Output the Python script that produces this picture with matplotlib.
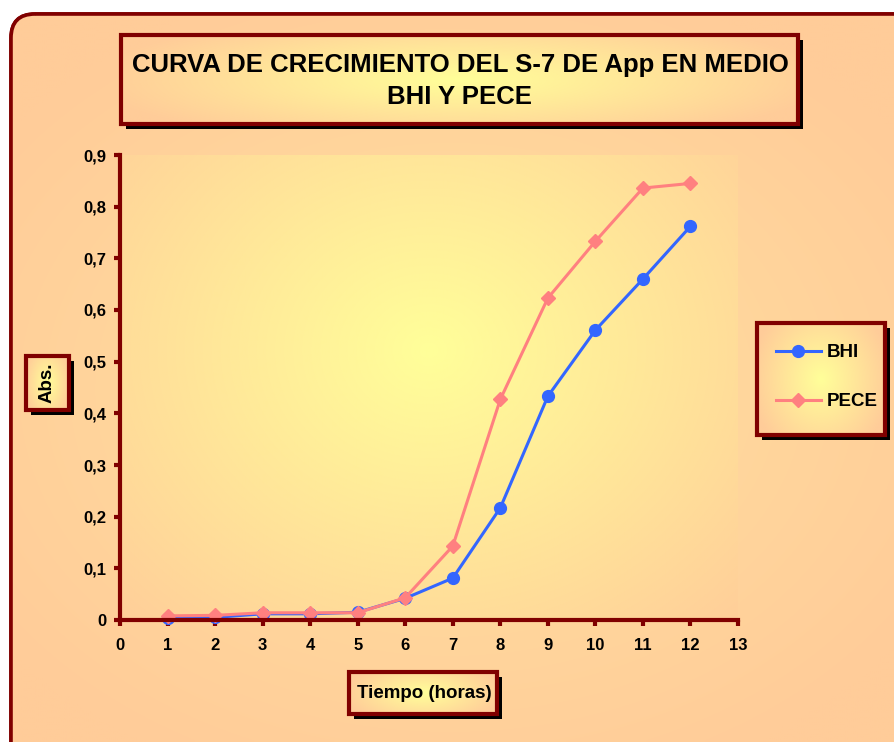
import numpy as np
import matplotlib
matplotlib.use("Agg")
import matplotlib.pyplot as plt
from matplotlib.patches import FancyBboxPatch, Rectangle

# Growth curve readings (absorbance) per hour
hours = [1, 2, 3, 4, 5, 6, 7, 8, 9, 10, 11, 12]
bhi = [0.004, 0.005, 0.012, 0.012, 0.015, 0.042, 0.081, 0.217, 0.433, 0.561, 0.660, 0.762]
pece = [0.008, 0.009, 0.014, 0.014, 0.014, 0.043, 0.143, 0.427, 0.623, 0.733, 0.836, 0.845]

x_ticks = list(range(0, 14))
y_ticks = [0, 0.1, 0.2, 0.3, 0.4, 0.5, 0.6, 0.7, 0.8, 0.9]
y_tick_labels = ["0", "0,1", "0,2", "0,3", "0,4", "0,5", "0,6", "0,7", "0,8", "0,9"]

title_text = "CURVA DE CRECIMIENTO DEL S-7 DE App EN MEDIO\nBHI Y PECE"
x_label = "Tiempo (horas)"
y_label = "Abs."

DARK_RED = "#800000"
PEACH = np.array([255, 204, 153]) / 255
YELLOW = np.array([255, 255, 153]) / 255
BLUE = "#3366FF"
PINK = "#FF8080"
FONT = "Liberation Sans"

W, H = 895, 742
fig = plt.figure(figsize=(W / 100, H / 100), dpi=100)
fig.patch.set_facecolor("white")

# Decoration layer in pixel coordinates
bg = fig.add_axes([0, 0, 1, 1], zorder=0)
bg.set_xlim(0, W)
bg.set_ylim(H, 0)
bg.axis("off")


def radial_fill(x0, y0, x1, y1, cx, cy, rx, ry, inner, outer, clip, ax, z):
    n = 200
    xs = np.linspace(x0, x1, n)
    ys = np.linspace(y0, y1, n)
    X, Y = np.meshgrid(xs, ys)
    t = np.sqrt(((X - cx) / rx) ** 2 + ((Y - cy) / ry) ** 2)
    t = np.clip(t, 0, 1)[..., None]
    img = inner * (1 - t) + outer * t
    im = ax.imshow(img, extent=(x0, x1, y1, y0), origin="upper",
                   interpolation="bilinear", aspect="auto", zorder=z)
    im.set_clip_path(clip)
    return im


# Outer chart frame
frame = FancyBboxPatch((11, 14), W + 40, H + 40,
                       boxstyle="round,pad=0,rounding_size=24",
                       fc=PEACH, ec=DARK_RED, lw=2.6, zorder=1)
bg.add_patch(frame)
radial_fill(11, 14, W, H, 450, 390, 560, 420,
            np.array([255, 226, 160]) / 255, PEACH, frame, bg, 1.5)
frame_edge = FancyBboxPatch((11, 14), W + 40, H + 40,
                            boxstyle="round,pad=0,rounding_size=24",
                            fc="none", ec=DARK_RED, lw=2.6, zorder=2)
bg.add_patch(frame_edge)


def label_box(x0, y0, x1, y1, z=3):
    shadow = Rectangle((x0 + 5, y0 + 5), x1 - x0, y1 - y0, fc="black", ec="none", zorder=z)
    bg.add_patch(shadow)
    box = Rectangle((x0, y0), x1 - x0, y1 - y0, fc=PEACH, ec="none", zorder=z + 0.1)
    bg.add_patch(box)
    radial_fill(x0, y0, x1, y1, (x0 + x1) / 2, (y0 + y1) / 2,
                (x1 - x0) * 0.55, (y1 - y0) * 0.75, YELLOW, PEACH, box, bg, z + 0.2)
    edge = Rectangle((x0, y0), x1 - x0, y1 - y0, fc="none", ec=DARK_RED, lw=3, zorder=z + 0.3)
    bg.add_patch(edge)


# Title box
label_box(121, 35, 798, 124)
bg.text(460, 81, title_text, ha="center", va="center", fontsize=18.5,
        fontweight="bold", family=FONT, linespacing=1.45, zorder=5)

# Y label box
label_box(26, 356, 69, 410)
bg.text(47.5, 383, y_label, ha="center", va="center", rotation=90,
        fontsize=13.5, fontweight="bold", family=FONT, zorder=5)

# X label box
label_box(349, 672, 497, 714)
bg.text(424, 693, x_label, ha="center", va="center",
        fontsize=13.5, fontweight="bold", family=FONT, zorder=5)

# Legend box
label_box(757, 323, 885, 435)

# Main plot
left, right, top, bottom = 120, 738, 155, 620
ax = fig.add_axes([left / W, (H - bottom) / H, (right - left) / W, (bottom - top) / H], zorder=2)
ax.patch.set_alpha(0)
ax.set_xlim(0, 13)
ax.set_ylim(0, 0.9)

grad = radial_fill(0, 0, 1, 1, 0.5, 0.42, 0.75, 0.85, YELLOW, PEACH,
                   Rectangle((0, 0), 1, 1, transform=ax.transAxes), ax, -5)
grad.set_extent((0, 1, 0, 1))
grad.set_transform(ax.transAxes)
grad.set_clip_path(Rectangle((0, 0), 1, 1, transform=ax.transAxes))

ax.plot(hours, bhi, color=BLUE, lw=2.2, marker="o", ms=8.5, label="BHI", zorder=3, clip_on=False)
ax.plot(hours, pece, color=PINK, lw=2.2, marker="D", ms=7.5, label="PECE", zorder=4, clip_on=False)

for s in ["top", "right"]:
    ax.spines[s].set_visible(False)
for s in ["left", "bottom"]:
    ax.spines[s].set_color(DARK_RED)
    ax.spines[s].set_linewidth(3)
    ax.spines[s].set_zorder(6)

ax.set_xticks(x_ticks)
ax.set_xticklabels([str(v) for v in x_ticks])
ax.set_yticks(y_ticks)
ax.set_yticklabels(y_tick_labels)
ax.tick_params(axis="both", direction="out", length=4, width=3, color=DARK_RED,
               labelsize=12)
ax.tick_params(axis="x", pad=9)
ax.tick_params(axis="y", pad=6)
for lab in ax.get_xticklabels() + ax.get_yticklabels():
    lab.set_fontweight("bold")
    lab.set_family(FONT)

leg = ax.legend(loc="center left", bbox_to_anchor=(759 / W, (H - 377) / H),
                bbox_transform=fig.transFigure, frameon=False,
                handlelength=2.4, handletextpad=0.3, labelspacing=1.7,
                prop={"family": FONT, "weight": "bold", "size": 13.5})

fig.savefig("out.png", dpi=100)
